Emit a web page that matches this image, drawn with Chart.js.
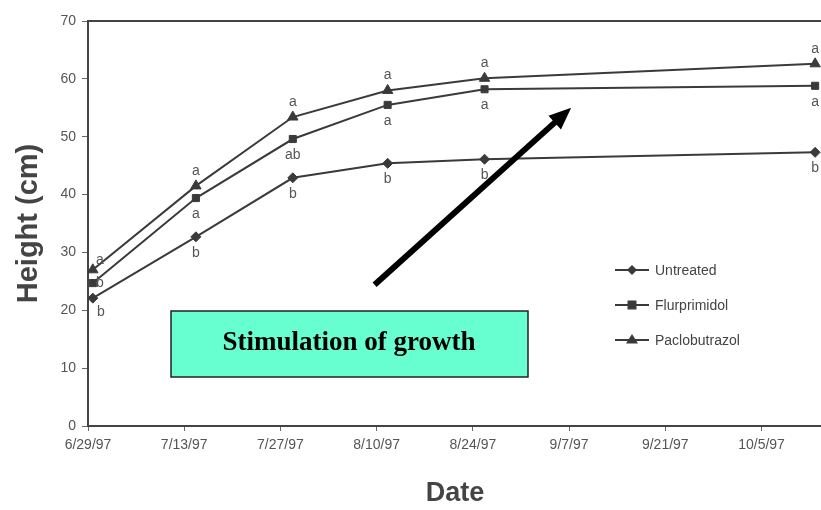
<!DOCTYPE html>
<html>
<head>
<meta charset="utf-8">
<script src="https://cdn.jsdelivr.net/npm/chart.js@4"></script>
<style>
  html,body{margin:0;padding:0;background:#fff;overflow:hidden;}
  #wrap{width:821px;height:510px;overflow:hidden;}
</style>
</head>
<body>
<div id="wrap"><canvas id="chart" width="829" height="510"></canvas></div>
<script>
// days counted from 6/29/97
const tickDays=[0,14,28,42,56,70,84,98];
const tickLabels=['6/29/97','7/13/97','7/27/97','8/10/97','8/24/97','9/7/97','9/21/97','10/5/97'];
const sampleDays=[0.7,15.7,29.8,43.6,57.7,105.8];
const seriesNames=['Untreated','Flurprimidol','Paclobutrazol'];
const untreated=[22.1,32.7,42.9,45.4,46.1,47.3];
const flurprimidol=[24.7,39.4,49.6,55.5,58.2,58.8];
const paclobutrazol=[27.0,41.5,53.4,58.0,60.1,62.6];
const untreatedLetters=['b','b','b','b','b','b'];
const flurprimidolLetters=['b','a','ab','a','a','a'];
const paclobutrazolLetters=['a','a','a','a','a','a'];
const yTicks=[0,10,20,30,40,50,60,70];

const ink='#3a3a3a';
const textGray='#555';
const styles=['rectRot','rect','triangle'];
const radii=[5,5,6];

const toPts=vals=>vals.map((v,i)=>({x:sampleDays[i],y:v}));
const allVals=[untreated,flurprimidol,paclobutrazol];
const allLetters=[untreatedLetters,flurprimidolLetters,paclobutrazolLetters];

const datasets=allVals.map((vals,i)=>({
  label:seriesNames[i],
  data:toPts(vals),
  borderColor:ink,
  backgroundColor:ink,
  borderWidth:2,
  pointStyle:styles[i],
  pointRadius:radii[i],
  pointBorderWidth:1,
  tension:0,
  clip:false
}));

// significance letters, legend, arrow and text box
const extras={
  id:'extras',
  afterDatasetsDraw(chart){
    const ctx=chart.ctx, xs=chart.scales.x, ys=chart.scales.y, a=chart.chartArea;
    ctx.save();
    // top border
    ctx.strokeStyle='#444';ctx.lineWidth=2;
    ctx.beginPath();ctx.moveTo(a.left,a.top);ctx.lineTo(a.right+2,a.top);ctx.stroke();

    // letters
    ctx.font='14px "Liberation Sans", Arial, sans-serif';
    ctx.fillStyle=textGray;ctx.textAlign='center';ctx.textBaseline='middle';
    allLetters.forEach((letters,s)=>{
      letters.forEach((l,i)=>{
        const px=xs.getPixelForValue(sampleDays[i]);
        const py=ys.getPixelForValue(allVals[s][i]);
        let dx=0,dy=0;
        if(s===2){dy=-15;}
        else{dy=16;}
        if(i===0){
          dx=s===2?7:(s===1?7:8);
          dy=s===2?-10:(s===1?0:14);
        }
        ctx.fillText(l,px+dx,py+dy);
      });
    });

    // legend
    const lx=615, ly=[270,305,340];
    seriesNames.forEach((n,i)=>{
      ctx.strokeStyle=ink;ctx.lineWidth=2;
      ctx.beginPath();ctx.moveTo(lx,ly[i]);ctx.lineTo(lx+34,ly[i]);ctx.stroke();
      ctx.fillStyle=ink;
      ctx.beginPath();
      const cx=lx+17,cy=ly[i],r=radii[i];
      if(styles[i]==='rectRot'){ctx.moveTo(cx,cy-r);ctx.lineTo(cx+r,cy);ctx.lineTo(cx,cy+r);ctx.lineTo(cx-r,cy);}
      else if(styles[i]==='rect'){ctx.rect(cx-4.5,cy-4.5,9,9);}
      else{ctx.moveTo(cx,cy-r);ctx.lineTo(cx+r,cy+r*0.6);ctx.lineTo(cx-r,cy+r*0.6);}
      ctx.closePath();ctx.fill();
      ctx.fillStyle='#444';ctx.textAlign='left';
      ctx.font='14px "Liberation Sans", Arial, sans-serif';
      ctx.fillText(n,lx+40,ly[i]+1);
    });

    // arrow
    const x0=xs.getPixelForValue(41.7), y0=ys.getPixelForValue(24.4);
    const x1=xs.getPixelForValue(70.3), y1=ys.getPixelForValue(55);
    const ang=Math.atan2(y1-y0,x1-x0);
    const hl=24;
    ctx.strokeStyle='#000';ctx.fillStyle='#000';ctx.lineWidth=6;
    ctx.beginPath();ctx.moveTo(x0,y0);ctx.lineTo(x1-hl*0.8*Math.cos(ang),y1-hl*0.8*Math.sin(ang));ctx.stroke();
    ctx.beginPath();
    ctx.moveTo(x1,y1);
    ctx.lineTo(x1-hl*Math.cos(ang-0.4),y1-hl*Math.sin(ang-0.4));
    ctx.lineTo(x1-hl*Math.cos(ang+0.4),y1-hl*Math.sin(ang+0.4));
    ctx.closePath();ctx.fill();

    // text box
    ctx.fillStyle='#67ffcf';ctx.fillRect(171,311,357,66);
    ctx.strokeStyle='#222';ctx.lineWidth=1.5;ctx.strokeRect(171,311,357,66);
    ctx.fillStyle='#000';ctx.textAlign='center';
    ctx.font='bold 27px "Liberation Serif", "Times New Roman", serif';
    ctx.fillText('Stimulation of growth',349,343);
    ctx.restore();
  }
};

new Chart(document.getElementById('chart'),{
  type:'line',
  data:{datasets},
  options:{
    responsive:false,
    animation:false,
    layout:{padding:{top:21,right:0,left:0,bottom:0}},
    plugins:{legend:{display:false},tooltip:{enabled:false}},
    scales:{
      x:{
        type:'linear',min:0,max:106.8,
        afterBuildTicks(scale){scale.ticks=tickDays.map(v=>({value:v}));},
        afterFit(scale){scale.height=84;},
        grid:{display:true,drawOnChartArea:false,drawTicks:true,tickLength:5,color:'#666'},
        border:{color:'#444',width:2},
        ticks:{
          callback:v=>tickLabels[tickDays.indexOf(v)]||'',
          color:textGray,font:{size:14,family:'"Liberation Sans", Arial, sans-serif'},
          maxRotation:0,autoSkip:false,padding:6
        },
        title:{display:true,text:'Date',color:'#444',
          font:{size:27,weight:'bold',family:'"Liberation Sans", Arial, sans-serif'},padding:{top:-8,bottom:0}}
      },
      y:{
        min:0,max:70,
        afterBuildTicks(scale){scale.ticks=yTicks.map(v=>({value:v}));},
        afterFit(scale){scale.width=88;},
        grid:{display:true,drawOnChartArea:false,drawTicks:true,tickLength:6,color:'#666'},
        border:{color:'#444',width:2},
        ticks:{color:textGray,font:{size:14,family:'"Liberation Sans", Arial, sans-serif'},padding:6},
        title:{display:true,text:'Height (cm)',color:'#444',
          font:{size:29,weight:'bold',family:'"Liberation Sans", Arial, sans-serif'},padding:{top:12,bottom:0}}
      }
    }
  },
  plugins:[extras]
});
</script>
</body>
</html>
